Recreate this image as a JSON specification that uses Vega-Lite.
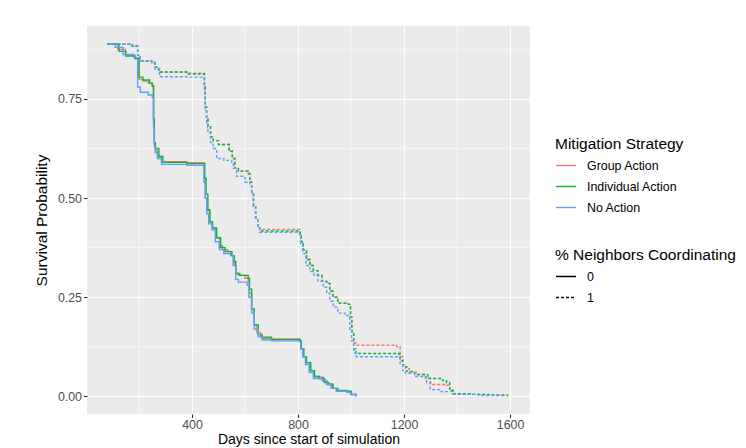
{
  "$schema": "https://vega.github.io/schema/vega-lite/v6.json",
  "width": 443,
  "height": 388,
  "autosize": {"type": "none"},
  "padding": {"left": 87, "top": 26, "right": 216, "bottom": 34},
  "background": "#FFFFFF",
  "datasets": {
    "xminor": [{"day": 200}, {"day": 600}, {"day": 1000}, {"day": 1400}],
    "yminor": [{"surv": 0.125}, {"surv": 0.375}, {"surv": 0.625}, {"surv": 0.875}],
    "curves": [
      {"strategy": "Group Action", "coord": "0", "day": 81, "surv": 0.888},
      {"strategy": "Group Action", "coord": "0", "day": 120, "surv": 0.875},
      {"strategy": "Group Action", "coord": "0", "day": 150, "surv": 0.86},
      {"strategy": "Group Action", "coord": "0", "day": 185, "surv": 0.852},
      {"strategy": "Group Action", "coord": "0", "day": 200, "surv": 0.8},
      {"strategy": "Group Action", "coord": "0", "day": 215, "surv": 0.795},
      {"strategy": "Group Action", "coord": "0", "day": 235, "surv": 0.79},
      {"strategy": "Group Action", "coord": "0", "day": 250, "surv": 0.785},
      {"strategy": "Group Action", "coord": "0", "day": 255, "surv": 0.7},
      {"strategy": "Group Action", "coord": "0", "day": 258, "surv": 0.64},
      {"strategy": "Group Action", "coord": "0", "day": 262, "surv": 0.62},
      {"strategy": "Group Action", "coord": "0", "day": 270, "surv": 0.605},
      {"strategy": "Group Action", "coord": "0", "day": 285, "surv": 0.592},
      {"strategy": "Group Action", "coord": "0", "day": 380, "surv": 0.589},
      {"strategy": "Group Action", "coord": "0", "day": 446, "surv": 0.55},
      {"strategy": "Group Action", "coord": "0", "day": 450, "surv": 0.5},
      {"strategy": "Group Action", "coord": "0", "day": 457, "surv": 0.47},
      {"strategy": "Group Action", "coord": "0", "day": 465, "surv": 0.44},
      {"strategy": "Group Action", "coord": "0", "day": 475, "surv": 0.425},
      {"strategy": "Group Action", "coord": "0", "day": 490, "surv": 0.4},
      {"strategy": "Group Action", "coord": "0", "day": 505, "surv": 0.38},
      {"strategy": "Group Action", "coord": "0", "day": 515, "surv": 0.37},
      {"strategy": "Group Action", "coord": "0", "day": 535, "surv": 0.365},
      {"strategy": "Group Action", "coord": "0", "day": 550, "surv": 0.355},
      {"strategy": "Group Action", "coord": "0", "day": 560, "surv": 0.33},
      {"strategy": "Group Action", "coord": "0", "day": 566, "surv": 0.31},
      {"strategy": "Group Action", "coord": "0", "day": 575, "surv": 0.305},
      {"strategy": "Group Action", "coord": "0", "day": 600, "surv": 0.298},
      {"strategy": "Group Action", "coord": "0", "day": 612, "surv": 0.29},
      {"strategy": "Group Action", "coord": "0", "day": 616, "surv": 0.26},
      {"strategy": "Group Action", "coord": "0", "day": 625, "surv": 0.22},
      {"strategy": "Group Action", "coord": "0", "day": 635, "surv": 0.18},
      {"strategy": "Group Action", "coord": "0", "day": 645, "surv": 0.16},
      {"strategy": "Group Action", "coord": "0", "day": 660, "surv": 0.15},
      {"strategy": "Group Action", "coord": "0", "day": 700, "surv": 0.145},
      {"strategy": "Group Action", "coord": "0", "day": 808, "surv": 0.14},
      {"strategy": "Group Action", "coord": "0", "day": 812, "surv": 0.12},
      {"strategy": "Group Action", "coord": "0", "day": 820, "surv": 0.1},
      {"strategy": "Group Action", "coord": "0", "day": 830, "surv": 0.085},
      {"strategy": "Group Action", "coord": "0", "day": 845, "surv": 0.065},
      {"strategy": "Group Action", "coord": "0", "day": 860, "surv": 0.05},
      {"strategy": "Group Action", "coord": "0", "day": 880, "surv": 0.048},
      {"strategy": "Group Action", "coord": "0", "day": 895, "surv": 0.038},
      {"strategy": "Group Action", "coord": "0", "day": 910, "surv": 0.032},
      {"strategy": "Group Action", "coord": "0", "day": 930, "surv": 0.02},
      {"strategy": "Group Action", "coord": "0", "day": 945, "surv": 0.013},
      {"strategy": "Group Action", "coord": "0", "day": 985, "surv": 0.01},
      {"strategy": "Group Action", "coord": "0", "day": 1000, "surv": 0.005},
      {"strategy": "Group Action", "coord": "0", "day": 1019, "surv": 0.0},

      {"strategy": "Individual Action", "coord": "0", "day": 81, "surv": 0.888},
      {"strategy": "Individual Action", "coord": "0", "day": 125, "surv": 0.87},
      {"strategy": "Individual Action", "coord": "0", "day": 150, "surv": 0.858},
      {"strategy": "Individual Action", "coord": "0", "day": 185, "surv": 0.852},
      {"strategy": "Individual Action", "coord": "0", "day": 200, "surv": 0.805},
      {"strategy": "Individual Action", "coord": "0", "day": 215, "surv": 0.798},
      {"strategy": "Individual Action", "coord": "0", "day": 240, "surv": 0.79},
      {"strategy": "Individual Action", "coord": "0", "day": 250, "surv": 0.782},
      {"strategy": "Individual Action", "coord": "0", "day": 255, "surv": 0.7},
      {"strategy": "Individual Action", "coord": "0", "day": 258, "surv": 0.64},
      {"strategy": "Individual Action", "coord": "0", "day": 262, "surv": 0.625},
      {"strategy": "Individual Action", "coord": "0", "day": 275, "surv": 0.605},
      {"strategy": "Individual Action", "coord": "0", "day": 290, "surv": 0.59},
      {"strategy": "Individual Action", "coord": "0", "day": 380, "surv": 0.587},
      {"strategy": "Individual Action", "coord": "0", "day": 448, "surv": 0.55},
      {"strategy": "Individual Action", "coord": "0", "day": 453, "surv": 0.51},
      {"strategy": "Individual Action", "coord": "0", "day": 460, "surv": 0.47},
      {"strategy": "Individual Action", "coord": "0", "day": 468, "surv": 0.44},
      {"strategy": "Individual Action", "coord": "0", "day": 478, "surv": 0.425},
      {"strategy": "Individual Action", "coord": "0", "day": 493, "surv": 0.4},
      {"strategy": "Individual Action", "coord": "0", "day": 508, "surv": 0.375},
      {"strategy": "Individual Action", "coord": "0", "day": 525, "surv": 0.365},
      {"strategy": "Individual Action", "coord": "0", "day": 550, "surv": 0.355},
      {"strategy": "Individual Action", "coord": "0", "day": 558, "surv": 0.34},
      {"strategy": "Individual Action", "coord": "0", "day": 565, "surv": 0.31},
      {"strategy": "Individual Action", "coord": "0", "day": 580, "surv": 0.305},
      {"strategy": "Individual Action", "coord": "0", "day": 612, "surv": 0.298},
      {"strategy": "Individual Action", "coord": "0", "day": 617, "surv": 0.27},
      {"strategy": "Individual Action", "coord": "0", "day": 625, "surv": 0.22},
      {"strategy": "Individual Action", "coord": "0", "day": 635, "surv": 0.18},
      {"strategy": "Individual Action", "coord": "0", "day": 650, "surv": 0.155},
      {"strategy": "Individual Action", "coord": "0", "day": 665, "surv": 0.147},
      {"strategy": "Individual Action", "coord": "0", "day": 700, "surv": 0.143},
      {"strategy": "Individual Action", "coord": "0", "day": 808, "surv": 0.14},
      {"strategy": "Individual Action", "coord": "0", "day": 812, "surv": 0.12},
      {"strategy": "Individual Action", "coord": "0", "day": 822, "surv": 0.1},
      {"strategy": "Individual Action", "coord": "0", "day": 832, "surv": 0.085},
      {"strategy": "Individual Action", "coord": "0", "day": 848, "surv": 0.065},
      {"strategy": "Individual Action", "coord": "0", "day": 862, "surv": 0.05},
      {"strategy": "Individual Action", "coord": "0", "day": 880, "surv": 0.045},
      {"strategy": "Individual Action", "coord": "0", "day": 900, "surv": 0.035},
      {"strategy": "Individual Action", "coord": "0", "day": 915, "surv": 0.03},
      {"strategy": "Individual Action", "coord": "0", "day": 932, "surv": 0.02},
      {"strategy": "Individual Action", "coord": "0", "day": 950, "surv": 0.015},
      {"strategy": "Individual Action", "coord": "0", "day": 985, "surv": 0.013},
      {"strategy": "Individual Action", "coord": "0", "day": 1000, "surv": 0.005},
      {"strategy": "Individual Action", "coord": "0", "day": 1019, "surv": 0.0},

      {"strategy": "No Action", "coord": "0", "day": 81, "surv": 0.888},
      {"strategy": "No Action", "coord": "0", "day": 110, "surv": 0.88},
      {"strategy": "No Action", "coord": "0", "day": 140, "surv": 0.862},
      {"strategy": "No Action", "coord": "0", "day": 180, "surv": 0.855},
      {"strategy": "No Action", "coord": "0", "day": 195, "surv": 0.78},
      {"strategy": "No Action", "coord": "0", "day": 205, "surv": 0.767},
      {"strategy": "No Action", "coord": "0", "day": 235, "surv": 0.76},
      {"strategy": "No Action", "coord": "0", "day": 250, "surv": 0.754},
      {"strategy": "No Action", "coord": "0", "day": 255, "surv": 0.68},
      {"strategy": "No Action", "coord": "0", "day": 258, "surv": 0.63},
      {"strategy": "No Action", "coord": "0", "day": 262, "surv": 0.615},
      {"strategy": "No Action", "coord": "0", "day": 270, "surv": 0.6},
      {"strategy": "No Action", "coord": "0", "day": 285, "surv": 0.585},
      {"strategy": "No Action", "coord": "0", "day": 380, "surv": 0.583},
      {"strategy": "No Action", "coord": "0", "day": 445, "surv": 0.54},
      {"strategy": "No Action", "coord": "0", "day": 450, "surv": 0.5},
      {"strategy": "No Action", "coord": "0", "day": 456, "surv": 0.46},
      {"strategy": "No Action", "coord": "0", "day": 463, "surv": 0.435},
      {"strategy": "No Action", "coord": "0", "day": 476, "surv": 0.42},
      {"strategy": "No Action", "coord": "0", "day": 488, "surv": 0.39},
      {"strategy": "No Action", "coord": "0", "day": 503, "surv": 0.37},
      {"strategy": "No Action", "coord": "0", "day": 520, "surv": 0.36},
      {"strategy": "No Action", "coord": "0", "day": 545, "surv": 0.355},
      {"strategy": "No Action", "coord": "0", "day": 555, "surv": 0.33},
      {"strategy": "No Action", "coord": "0", "day": 565, "surv": 0.295},
      {"strategy": "No Action", "coord": "0", "day": 575, "surv": 0.288},
      {"strategy": "No Action", "coord": "0", "day": 608, "surv": 0.28},
      {"strategy": "No Action", "coord": "0", "day": 615, "surv": 0.25},
      {"strategy": "No Action", "coord": "0", "day": 625, "surv": 0.21},
      {"strategy": "No Action", "coord": "0", "day": 635, "surv": 0.17},
      {"strategy": "No Action", "coord": "0", "day": 650, "surv": 0.15},
      {"strategy": "No Action", "coord": "0", "day": 665, "surv": 0.142},
      {"strategy": "No Action", "coord": "0", "day": 700, "surv": 0.14},
      {"strategy": "No Action", "coord": "0", "day": 805, "surv": 0.138},
      {"strategy": "No Action", "coord": "0", "day": 810, "surv": 0.12},
      {"strategy": "No Action", "coord": "0", "day": 818, "surv": 0.1},
      {"strategy": "No Action", "coord": "0", "day": 828, "surv": 0.08},
      {"strategy": "No Action", "coord": "0", "day": 842, "surv": 0.06},
      {"strategy": "No Action", "coord": "0", "day": 858, "surv": 0.045},
      {"strategy": "No Action", "coord": "0", "day": 890, "surv": 0.04},
      {"strategy": "No Action", "coord": "0", "day": 908, "surv": 0.03},
      {"strategy": "No Action", "coord": "0", "day": 925, "surv": 0.02},
      {"strategy": "No Action", "coord": "0", "day": 945, "surv": 0.013},
      {"strategy": "No Action", "coord": "0", "day": 985, "surv": 0.01},
      {"strategy": "No Action", "coord": "0", "day": 1000, "surv": 0.004},
      {"strategy": "No Action", "coord": "0", "day": 1019, "surv": 0.0},

      {"strategy": "Group Action", "coord": "1", "day": 81, "surv": 0.888},
      {"strategy": "Group Action", "coord": "1", "day": 175, "surv": 0.883},
      {"strategy": "Group Action", "coord": "1", "day": 195, "surv": 0.86},
      {"strategy": "Group Action", "coord": "1", "day": 205, "surv": 0.846},
      {"strategy": "Group Action", "coord": "1", "day": 248, "surv": 0.842},
      {"strategy": "Group Action", "coord": "1", "day": 260, "surv": 0.83},
      {"strategy": "Group Action", "coord": "1", "day": 275, "surv": 0.818},
      {"strategy": "Group Action", "coord": "1", "day": 380, "surv": 0.815},
      {"strategy": "Group Action", "coord": "1", "day": 447, "surv": 0.78},
      {"strategy": "Group Action", "coord": "1", "day": 450, "surv": 0.73},
      {"strategy": "Group Action", "coord": "1", "day": 455, "surv": 0.7},
      {"strategy": "Group Action", "coord": "1", "day": 460, "surv": 0.68},
      {"strategy": "Group Action", "coord": "1", "day": 470, "surv": 0.655},
      {"strategy": "Group Action", "coord": "1", "day": 480, "surv": 0.645},
      {"strategy": "Group Action", "coord": "1", "day": 500, "surv": 0.635},
      {"strategy": "Group Action", "coord": "1", "day": 540, "surv": 0.618},
      {"strategy": "Group Action", "coord": "1", "day": 552, "surv": 0.6},
      {"strategy": "Group Action", "coord": "1", "day": 562, "surv": 0.575},
      {"strategy": "Group Action", "coord": "1", "day": 575, "surv": 0.568},
      {"strategy": "Group Action", "coord": "1", "day": 612, "surv": 0.562},
      {"strategy": "Group Action", "coord": "1", "day": 618, "surv": 0.54},
      {"strategy": "Group Action", "coord": "1", "day": 625, "surv": 0.51},
      {"strategy": "Group Action", "coord": "1", "day": 632, "surv": 0.48},
      {"strategy": "Group Action", "coord": "1", "day": 640, "surv": 0.45},
      {"strategy": "Group Action", "coord": "1", "day": 648, "surv": 0.43},
      {"strategy": "Group Action", "coord": "1", "day": 655, "surv": 0.421},
      {"strategy": "Group Action", "coord": "1", "day": 808, "surv": 0.41},
      {"strategy": "Group Action", "coord": "1", "day": 812, "surv": 0.39},
      {"strategy": "Group Action", "coord": "1", "day": 820, "surv": 0.37},
      {"strategy": "Group Action", "coord": "1", "day": 832, "surv": 0.345},
      {"strategy": "Group Action", "coord": "1", "day": 845, "surv": 0.33},
      {"strategy": "Group Action", "coord": "1", "day": 858, "surv": 0.317},
      {"strategy": "Group Action", "coord": "1", "day": 875, "surv": 0.305},
      {"strategy": "Group Action", "coord": "1", "day": 890, "surv": 0.29},
      {"strategy": "Group Action", "coord": "1", "day": 908, "surv": 0.285},
      {"strategy": "Group Action", "coord": "1", "day": 920, "surv": 0.265},
      {"strategy": "Group Action", "coord": "1", "day": 932, "surv": 0.25},
      {"strategy": "Group Action", "coord": "1", "day": 950, "surv": 0.235},
      {"strategy": "Group Action", "coord": "1", "day": 990, "surv": 0.232},
      {"strategy": "Group Action", "coord": "1", "day": 998, "surv": 0.2},
      {"strategy": "Group Action", "coord": "1", "day": 1003, "surv": 0.16},
      {"strategy": "Group Action", "coord": "1", "day": 1010, "surv": 0.135},
      {"strategy": "Group Action", "coord": "1", "day": 1018, "surv": 0.129},
      {"strategy": "Group Action", "coord": "1", "day": 1172, "surv": 0.125},
      {"strategy": "Group Action", "coord": "1", "day": 1185, "surv": 0.1},
      {"strategy": "Group Action", "coord": "1", "day": 1195, "surv": 0.08},
      {"strategy": "Group Action", "coord": "1", "day": 1205, "surv": 0.07},
      {"strategy": "Group Action", "coord": "1", "day": 1220, "surv": 0.06},
      {"strategy": "Group Action", "coord": "1", "day": 1250, "surv": 0.055},
      {"strategy": "Group Action", "coord": "1", "day": 1280, "surv": 0.046},
      {"strategy": "Group Action", "coord": "1", "day": 1300, "surv": 0.03},
      {"strategy": "Group Action", "coord": "1", "day": 1360, "surv": 0.028},
      {"strategy": "Group Action", "coord": "1", "day": 1372, "surv": 0.015},
      {"strategy": "Group Action", "coord": "1", "day": 1385, "surv": 0.007},
      {"strategy": "Group Action", "coord": "1", "day": 1420, "surv": 0.005},
      {"strategy": "Group Action", "coord": "1", "day": 1500, "surv": 0.003},
      {"strategy": "Group Action", "coord": "1", "day": 1590, "surv": 0.0},

      {"strategy": "Individual Action", "coord": "1", "day": 81, "surv": 0.888},
      {"strategy": "Individual Action", "coord": "1", "day": 175, "surv": 0.883},
      {"strategy": "Individual Action", "coord": "1", "day": 195, "surv": 0.86},
      {"strategy": "Individual Action", "coord": "1", "day": 205, "surv": 0.846},
      {"strategy": "Individual Action", "coord": "1", "day": 248, "surv": 0.842},
      {"strategy": "Individual Action", "coord": "1", "day": 260, "surv": 0.83},
      {"strategy": "Individual Action", "coord": "1", "day": 275, "surv": 0.818},
      {"strategy": "Individual Action", "coord": "1", "day": 380, "surv": 0.813},
      {"strategy": "Individual Action", "coord": "1", "day": 447, "surv": 0.78},
      {"strategy": "Individual Action", "coord": "1", "day": 450, "surv": 0.73},
      {"strategy": "Individual Action", "coord": "1", "day": 455, "surv": 0.7},
      {"strategy": "Individual Action", "coord": "1", "day": 460, "surv": 0.68},
      {"strategy": "Individual Action", "coord": "1", "day": 470, "surv": 0.655},
      {"strategy": "Individual Action", "coord": "1", "day": 480, "surv": 0.645},
      {"strategy": "Individual Action", "coord": "1", "day": 500, "surv": 0.635},
      {"strategy": "Individual Action", "coord": "1", "day": 540, "surv": 0.618},
      {"strategy": "Individual Action", "coord": "1", "day": 552, "surv": 0.6},
      {"strategy": "Individual Action", "coord": "1", "day": 562, "surv": 0.575},
      {"strategy": "Individual Action", "coord": "1", "day": 575, "surv": 0.568},
      {"strategy": "Individual Action", "coord": "1", "day": 612, "surv": 0.562},
      {"strategy": "Individual Action", "coord": "1", "day": 618, "surv": 0.54},
      {"strategy": "Individual Action", "coord": "1", "day": 625, "surv": 0.51},
      {"strategy": "Individual Action", "coord": "1", "day": 632, "surv": 0.48},
      {"strategy": "Individual Action", "coord": "1", "day": 640, "surv": 0.45},
      {"strategy": "Individual Action", "coord": "1", "day": 648, "surv": 0.43},
      {"strategy": "Individual Action", "coord": "1", "day": 655, "surv": 0.417},
      {"strategy": "Individual Action", "coord": "1", "day": 808, "surv": 0.405},
      {"strategy": "Individual Action", "coord": "1", "day": 812, "surv": 0.39},
      {"strategy": "Individual Action", "coord": "1", "day": 820, "surv": 0.37},
      {"strategy": "Individual Action", "coord": "1", "day": 832, "surv": 0.345},
      {"strategy": "Individual Action", "coord": "1", "day": 845, "surv": 0.33},
      {"strategy": "Individual Action", "coord": "1", "day": 858, "surv": 0.317},
      {"strategy": "Individual Action", "coord": "1", "day": 875, "surv": 0.305},
      {"strategy": "Individual Action", "coord": "1", "day": 890, "surv": 0.29},
      {"strategy": "Individual Action", "coord": "1", "day": 908, "surv": 0.285},
      {"strategy": "Individual Action", "coord": "1", "day": 920, "surv": 0.265},
      {"strategy": "Individual Action", "coord": "1", "day": 932, "surv": 0.25},
      {"strategy": "Individual Action", "coord": "1", "day": 950, "surv": 0.235},
      {"strategy": "Individual Action", "coord": "1", "day": 990, "surv": 0.232},
      {"strategy": "Individual Action", "coord": "1", "day": 998, "surv": 0.2},
      {"strategy": "Individual Action", "coord": "1", "day": 1003, "surv": 0.16},
      {"strategy": "Individual Action", "coord": "1", "day": 1010, "surv": 0.12},
      {"strategy": "Individual Action", "coord": "1", "day": 1018, "surv": 0.108},
      {"strategy": "Individual Action", "coord": "1", "day": 1180, "surv": 0.106},
      {"strategy": "Individual Action", "coord": "1", "day": 1185, "surv": 0.09},
      {"strategy": "Individual Action", "coord": "1", "day": 1195, "surv": 0.075},
      {"strategy": "Individual Action", "coord": "1", "day": 1210, "surv": 0.063},
      {"strategy": "Individual Action", "coord": "1", "day": 1240, "surv": 0.055},
      {"strategy": "Individual Action", "coord": "1", "day": 1290, "surv": 0.045},
      {"strategy": "Individual Action", "coord": "1", "day": 1345, "surv": 0.04},
      {"strategy": "Individual Action", "coord": "1", "day": 1360, "surv": 0.035},
      {"strategy": "Individual Action", "coord": "1", "day": 1372, "surv": 0.015},
      {"strategy": "Individual Action", "coord": "1", "day": 1385, "surv": 0.007},
      {"strategy": "Individual Action", "coord": "1", "day": 1450, "surv": 0.005},
      {"strategy": "Individual Action", "coord": "1", "day": 1520, "surv": 0.003},
      {"strategy": "Individual Action", "coord": "1", "day": 1590, "surv": 0.0},

      {"strategy": "No Action", "coord": "1", "day": 81, "surv": 0.888},
      {"strategy": "No Action", "coord": "1", "day": 172, "surv": 0.885},
      {"strategy": "No Action", "coord": "1", "day": 195, "surv": 0.86},
      {"strategy": "No Action", "coord": "1", "day": 205, "surv": 0.845},
      {"strategy": "No Action", "coord": "1", "day": 248, "surv": 0.84},
      {"strategy": "No Action", "coord": "1", "day": 260, "surv": 0.825},
      {"strategy": "No Action", "coord": "1", "day": 278, "surv": 0.806},
      {"strategy": "No Action", "coord": "1", "day": 380, "surv": 0.805},
      {"strategy": "No Action", "coord": "1", "day": 447, "surv": 0.77},
      {"strategy": "No Action", "coord": "1", "day": 450, "surv": 0.72},
      {"strategy": "No Action", "coord": "1", "day": 455, "surv": 0.69},
      {"strategy": "No Action", "coord": "1", "day": 460, "surv": 0.665},
      {"strategy": "No Action", "coord": "1", "day": 470, "surv": 0.64},
      {"strategy": "No Action", "coord": "1", "day": 480, "surv": 0.625},
      {"strategy": "No Action", "coord": "1", "day": 493, "surv": 0.6},
      {"strategy": "No Action", "coord": "1", "day": 520, "surv": 0.595},
      {"strategy": "No Action", "coord": "1", "day": 550, "surv": 0.59},
      {"strategy": "No Action", "coord": "1", "day": 556, "surv": 0.575},
      {"strategy": "No Action", "coord": "1", "day": 568, "surv": 0.555},
      {"strategy": "No Action", "coord": "1", "day": 600, "surv": 0.54},
      {"strategy": "No Action", "coord": "1", "day": 619, "surv": 0.533},
      {"strategy": "No Action", "coord": "1", "day": 625, "surv": 0.51},
      {"strategy": "No Action", "coord": "1", "day": 632, "surv": 0.48},
      {"strategy": "No Action", "coord": "1", "day": 640, "surv": 0.45},
      {"strategy": "No Action", "coord": "1", "day": 648, "surv": 0.425},
      {"strategy": "No Action", "coord": "1", "day": 655, "surv": 0.414},
      {"strategy": "No Action", "coord": "1", "day": 805, "surv": 0.405},
      {"strategy": "No Action", "coord": "1", "day": 810, "surv": 0.385},
      {"strategy": "No Action", "coord": "1", "day": 818, "surv": 0.36},
      {"strategy": "No Action", "coord": "1", "day": 830, "surv": 0.33},
      {"strategy": "No Action", "coord": "1", "day": 845, "surv": 0.315},
      {"strategy": "No Action", "coord": "1", "day": 860, "surv": 0.305},
      {"strategy": "No Action", "coord": "1", "day": 875, "surv": 0.29},
      {"strategy": "No Action", "coord": "1", "day": 895, "surv": 0.275},
      {"strategy": "No Action", "coord": "1", "day": 908, "surv": 0.26},
      {"strategy": "No Action", "coord": "1", "day": 920, "surv": 0.24},
      {"strategy": "No Action", "coord": "1", "day": 933, "surv": 0.225},
      {"strategy": "No Action", "coord": "1", "day": 950, "surv": 0.21},
      {"strategy": "No Action", "coord": "1", "day": 977, "surv": 0.204},
      {"strategy": "No Action", "coord": "1", "day": 995, "surv": 0.17},
      {"strategy": "No Action", "coord": "1", "day": 1002, "surv": 0.14},
      {"strategy": "No Action", "coord": "1", "day": 1010, "surv": 0.11},
      {"strategy": "No Action", "coord": "1", "day": 1020, "surv": 0.1},
      {"strategy": "No Action", "coord": "1", "day": 1180, "surv": 0.098},
      {"strategy": "No Action", "coord": "1", "day": 1185, "surv": 0.08},
      {"strategy": "No Action", "coord": "1", "day": 1195, "surv": 0.065},
      {"strategy": "No Action", "coord": "1", "day": 1205, "surv": 0.058},
      {"strategy": "No Action", "coord": "1", "day": 1240, "surv": 0.05},
      {"strategy": "No Action", "coord": "1", "day": 1285, "surv": 0.035},
      {"strategy": "No Action", "coord": "1", "day": 1298, "surv": 0.017},
      {"strategy": "No Action", "coord": "1", "day": 1340, "surv": 0.012},
      {"strategy": "No Action", "coord": "1", "day": 1385, "surv": 0.005},
      {"strategy": "No Action", "coord": "1", "day": 1480, "surv": 0.002},
      {"strategy": "No Action", "coord": "1", "day": 1580, "surv": 0.0}
    ]
  },
  "layer": [
    {
      "data": {"name": "xminor"},
      "mark": {"type": "rule", "color": "#FFFFFF", "strokeWidth": 0.55},
      "encoding": {"x": {"field": "day", "type": "quantitative"}}
    },
    {
      "data": {"name": "yminor"},
      "mark": {"type": "rule", "color": "#FFFFFF", "strokeWidth": 0.55},
      "encoding": {"y": {"field": "surv", "type": "quantitative"}}
    },
    {
      "data": {"name": "curves"},
      "mark": {"type": "line", "interpolate": "step-after", "strokeWidth": 1.4, "strokeCap": "butt"},
      "encoding": {
        "x": {
          "field": "day", "type": "quantitative",
          "scale": {"domain": [4, 1675], "nice": false, "zero": false},
          "axis": {"title": "Days since start of simulation", "values": [400, 800, 1200, 1600], "format": "d", "labelPadding": 1, "titlePadding": 2, "titleFontSize": 14}
        },
        "y": {
          "field": "surv", "type": "quantitative",
          "scale": {"domain": [-0.0445, 0.934], "nice": false, "zero": false},
          "axis": {"title": "Survival Probability", "values": [0, 0.25, 0.5, 0.75], "format": ".2f", "titlePadding": 8}
        },
        "color": {
          "field": "strategy", "type": "nominal",
          "scale": {"domain": ["Group Action", "Individual Action", "No Action"], "range": ["#F8766D", "#00BA38", "#619CFF"]},
          "legend": {"title": "Mitigation Strategy", "orient": "none", "legendX": 468, "legendY": 111}
        },
        "strokeDash": {
          "field": "coord", "type": "nominal",
          "scale": {"domain": ["0", "1"], "range": [[1, 0], [3, 2]]},
          "legend": {"title": "% Neighbors Coordinating", "orient": "none", "legendX": 468, "legendY": 222, "symbolStrokeColor": "#000000"}
        },
        "detail": {"field": "coord"},
        "order": {"field": "day", "type": "quantitative"}
      }
    }
  ],
  "config": {
    "font": "Liberation Sans",
    "view": {"fill": "#EBEBEB", "stroke": null},
    "axis": {
      "domain": false,
      "grid": true,
      "gridColor": "#FFFFFF",
      "gridWidth": 1.1,
      "tickColor": "#333333",
      "tickSize": 3.5,
      "tickWidth": 1.1,
      "labelColor": "#4D4D4D",
      "labelFont": "Liberation Sans",
      "labelFontSize": 12.4,
      "labelPadding": 2,
      "titleFont": "Liberation Sans",
      "titleFontSize": 15.5,
      "titleFontWeight": "normal",
      "titleColor": "#000000"
    },
    "legend": {
      "symbolType": "stroke",
      "symbolSize": 400,
      "symbolStrokeWidth": 1.4,
      "labelFont": "Liberation Sans",
      "labelFontSize": 12.4,
      "labelColor": "#000000",
      "labelOffset": 10,
      "titleFont": "Liberation Sans",
      "titleFontSize": 15.5,
      "titleFontWeight": "normal",
      "titleColor": "#000000",
      "titleLimit": 400,
      "titlePadding": 2,
      "rowPadding": 3
    }
  }
}
